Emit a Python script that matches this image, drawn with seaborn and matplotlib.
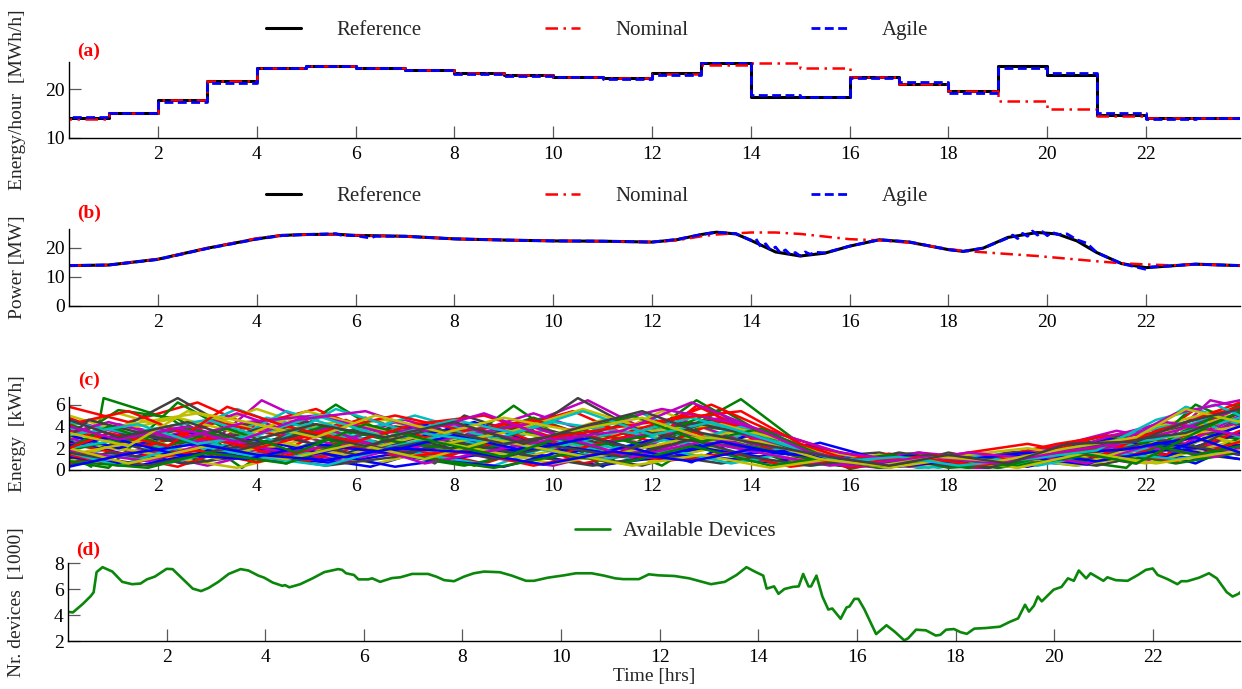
import numpy as np
import pandas as pd
import matplotlib
matplotlib.use("Agg")
import matplotlib.pyplot as plt
import seaborn as sns

# ---------------- data ----------------
# (a) hourly energy [MWh/h], hour h covers [h, h+1)
hours = list(range(24))
energy_reference = [14.1, 15.1, 17.7, 21.6, 24.4, 24.7, 24.4, 24.0, 23.3, 22.9, 22.6, 22.3,
                    23.3, 25.4, 18.4, 18.4, 22.6, 21.0, 19.6, 24.7, 22.9, 14.7, 14.2, 14.2]
energy_nominal = [14.0, 15.1, 17.7, 21.6, 24.4, 24.7, 24.4, 24.0, 23.3, 22.9, 22.6, 22.3,
                  23.2, 25.0, 25.4, 24.3, 22.6, 21.0, 19.6, 17.6, 15.9, 14.6, 14.2, 14.2]
energy_agile = [14.4, 15.1, 17.4, 21.3, 24.4, 24.8, 24.3, 23.9, 23.2, 22.8, 22.6, 22.2,
                22.9, 25.5, 18.9, 18.4, 22.3, 21.4, 19.2, 24.3, 23.4, 15.2, 14.0, 14.1]

# (b) power [MW]
power_t = [0.2, 1.0, 2.0, 3.0, 4.0, 4.5, 5.0, 5.6, 6.0, 7.0, 8.0, 9.0, 10.0, 11.0, 12.0, 12.5,
           13.0, 13.3, 13.7, 14.0, 14.5, 15.0, 15.5, 16.0, 16.6, 17.2, 18.0, 18.3, 18.7, 19.2,
           19.8, 20.2, 20.6, 21.0, 21.5, 22.0, 22.5, 23.0, 23.9]
power_reference = [13.9, 14.1, 16.1, 19.9, 23.1, 24.3, 24.6, 24.7, 24.3, 24.0, 23.1, 22.7, 22.4,
                   22.3, 22.0, 22.8, 24.6, 25.4, 24.8, 22.6, 18.6, 17.2, 18.2, 20.6, 22.8, 22.0,
                   19.4, 18.8, 19.9, 23.6, 25.3, 24.8, 22.4, 18.4, 14.6, 13.2, 13.8, 14.4, 13.9]
power_nominal = [13.9, 14.1, 16.1, 19.9, 23.3, 24.3, 24.6, 24.6, 24.3, 24.0, 23.1, 22.7, 22.4,
                 22.3, 22.0, 22.6, 24.0, 24.6, 25.0, 25.3, 25.3, 24.8, 23.9, 23.0, 22.6, 21.8,
                 19.6, 19.0, 18.5, 17.9, 17.2, 16.6, 16.0, 15.4, 14.7, 14.3, 14.0, 14.3, 13.9]
agile_t = [0.2, 1.0, 2.0, 3.0, 4.0, 4.5, 5.0, 5.6, 5.7, 6.0, 6.3, 6.4, 7.0, 8.0, 9.0, 10.0, 11.0,
           12.0, 12.5, 13.0, 13.3, 13.7, 14.0, 14.1, 14.2, 14.3, 14.4, 14.5, 14.6, 14.7, 14.8,
           14.9, 15.0, 15.1, 15.2, 15.3, 15.5, 16.0, 16.6, 17.2, 18.0, 18.3, 18.7, 19.2, 19.3,
           19.4, 19.5, 19.6, 19.7, 19.8, 19.9, 20.0, 20.1, 20.2, 20.4, 20.6, 20.8, 21.0, 21.5,
           21.9, 22.0, 22.1, 22.5, 23.0, 23.9]
power_agile = [13.9, 14.1, 16.0, 19.8, 23.0, 24.2, 24.6, 24.9, 24.4, 24.2, 23.4, 24.0, 24.0, 23.1,
               22.7, 22.4, 22.3, 22.0, 22.9, 24.6, 25.4, 24.9, 22.6, 23.2, 20.4, 21.4, 19.2, 20.3,
               18.2, 19.3, 17.6, 18.4, 17.2, 18.6, 17.8, 18.5, 18.3, 20.6, 22.8, 22.1, 19.4, 18.8,
               19.9, 23.4, 24.4, 23.2, 25.0, 24.0, 25.8, 24.4, 25.6, 24.2, 25.4, 24.6, 24.8, 22.8,
               21.6, 18.4, 14.6, 13.0, 12.6, 13.4, 13.8, 14.4, 13.9]

# (c) device energy trajectories [kWh]: waypoint times and energies, one list per device
dev_colors = {"b": "#0000ff", "g": "#008000", "r": "#ff0000", "c": "#00bfbf",
              "m": "#bf00bf", "y": "#bfbf00", "k": "#404040"}
dev_times = {
 "b1": [0.2,1.4,2.8,4.0,5.6,7.2,8.6,10.2,11.6,13.2,14.6,15.8,17.0,18.4,19.6,21.0,22.4,23.9],
 "b2": [0.2,1.0,2.5,3.8,5.0,6.3,8.0,9.5,11.0,12.4,13.6,15.3,16.4,17.6,19.0,20.2,21.8,23.0,23.9],
 "b3": [0.2,1.8,3.3,4.8,6.4,7.4,8.8,10.0,11.4,12.8,14.0,15.0,16.2,17.4,18.8,20.4,21.6,23.0,23.9],
 "b4": [0.2,0.8,2.2,3.6,5.2,6.8,8.2,9.8,11.2,12.6,14.4,15.6,16.8,18.2,19.4,20.6,22.2,23.9],
 "b5": [0.2,1.2,2.6,4.2,5.6,7.0,8.4,9.6,11.0,12.2,13.6,14.8,16.0,17.2,18.6,19.8,21.2,22.8,23.9],
 "b6": [0.2,1.6,3.0,4.4,5.8,7.4,9.0,10.4,11.8,13.0,14.2,15.4,16.6,18.0,19.2,20.8,22.0,23.4,23.9],
 "b7": [0.2,1.0,2.4,3.8,5.2,6.6,8.0,9.4,10.8,12.2,13.4,14.6,15.8,17.0,18.4,19.6,21.0,22.6,23.9],
 "b8": [0.2,1.4,2.8,4.0,5.4,6.8,8.4,9.8,11.2,12.8,14.0,15.2,16.4,17.8,19.0,20.2,21.6,23.0,23.9],
 "g1": [0.2,0.65,0.9,2.3,3.7,5.6,7.6,9.2,11.0,12.9,14.6,15.6,16.6,17.4,18.2,19.0,20.2,21.0,22.4,23.9],
 "g2": [0.2,1.2,2.4,3.4,4.6,6.0,7.4,8.4,9.8,11.2,12.4,13.8,15.0,16.0,17.0,18.4,19.6,21.2,22.4,23.9],
 "g3": [0.2,1.0,2.4,4.0,5.2,6.8,8.2,9.6,11.0,12.2,13.2,14.6,15.8,17.2,18.6,20.0,21.6,23.0,23.9],
 "g4": [0.2,1.6,3.0,4.4,5.6,7.0,8.6,10.0,11.6,13.0,14.0,15.2,16.6,17.8,19.0,20.4,22.0,23.2,23.9],
 "g5": [0.2,1.4,2.8,4.0,5.4,6.8,8.2,9.6,11.0,12.4,13.6,14.8,16.0,17.2,18.4,19.8,21.0,22.6,23.9],
 "g6": [0.2,1.2,2.6,4.0,5.4,6.8,8.2,9.4,10.8,12.2,13.4,14.6,15.6,16.8,18.0,19.4,20.6,21.8,22.6,23.9],
 "g7": [0.2,1.8,3.0,4.6,5.8,7.2,8.8,10.2,11.4,12.8,14.4,15.6,16.6,17.8,19.0,20.6,21.6,23.0,23.9],
 "g8": [0.2,1.0,2.2,3.4,4.8,6.2,7.6,9.0,10.4,11.6,13.0,14.2,15.4,16.6,17.8,19.2,20.4,21.8,23.0,23.9],
 "r1": [0.2,1.4,2.8,4.2,5.4,6.6,8.0,9.4,10.8,12.0,12.9,14.2,15.6,16.8,18.2,19.4,20.6,22.0,23.0,23.9],
 "r2": [0.2,1.2,2.6,3.8,5.2,6.4,7.6,9.0,10.4,11.6,13.0,14.4,15.4,16.6,17.8,19.2,20.6,21.8,23.2,23.9],
 "r3": [0.2,1.6,3.0,4.4,5.8,7.2,8.6,10.0,11.2,12.6,13.6,14.8,16.0,17.4,18.6,20.0,21.4,22.8,23.9],
 "r4": [0.2,1.0,2.4,3.6,5.0,6.4,7.8,9.2,10.6,12.0,13.4,14.6,15.6,16.8,18.0,19.4,20.8,22.4,23.9],
 "r5": [0.2,1.8,3.2,4.8,6.2,7.4,8.8,10.2,11.6,12.8,14.0,15.2,16.4,17.6,18.8,20.2,21.6,23.0,23.9],
 "r6": [0.2,1.2,2.8,4.0,5.6,7.0,8.2,9.6,11.0,12.4,13.6,14.8,16.2,17.2,18.6,19.8,21.2,22.6,23.9],
 "r7": [0.2,1.4,2.6,4.0,5.4,6.8,8.2,9.6,11.0,12.2,13.2,14.4,15.6,17.0,18.4,19.6,21.0,22.2,23.9],
 "r8": [0.2,1.0,2.2,3.4,4.6,6.0,7.2,8.6,10.0,11.4,12.6,13.8,15.0,16.2,17.4,18.6,20.0,21.2,22.6,23.9],
 "c1": [0.2,1.6,3.0,3.6,4.8,6.2,7.6,9.0,10.4,11.8,13.0,14.2,15.4,16.6,18.0,19.2,20.4,21.8,22.8,23.9],
 "c2": [0.2,1.2,2.4,3.8,5.0,6.6,8.0,9.4,10.6,12.0,13.4,14.8,16.0,17.4,18.6,20.0,21.4,22.6,23.9],
 "c3": [0.2,1.4,2.8,4.2,5.8,7.2,8.4,9.8,11.2,12.6,13.8,15.0,16.2,17.6,19.0,20.4,21.8,23.2,23.9],
 "c4": [0.2,1.0,2.2,3.4,4.6,6.0,7.4,8.8,10.2,11.6,12.8,14.0,15.2,16.4,17.8,19.0,20.6,22.0,23.6,23.9],
 "c5": [0.2,1.8,3.2,4.6,6.0,7.2,8.6,10.0,11.4,12.6,13.8,15.0,16.4,17.6,19.0,20.4,21.6,23.0,23.9],
 "c6": [0.2,1.2,2.6,4.0,5.4,6.8,8.2,9.6,11.0,12.4,13.6,14.8,16.0,17.2,18.4,19.8,21.2,22.6,23.9],
 "c7": [0.2,1.4,3.0,4.4,5.6,7.0,8.6,10.0,11.6,12.8,14.2,15.6,16.8,18.2,19.4,20.8,22.2,23.9],
 "c8": [0.2,1.6,2.8,4.0,5.2,6.6,8.0,9.2,10.6,12.0,13.2,14.6,15.8,17.0,18.2,19.6,21.0,22.2,23.4,23.9],
 "m1": [0.2,1.4,2.8,4.1,5.6,7.0,8.4,9.8,10.7,12.0,13.4,14.8,15.8,17.0,18.2,19.6,21.0,22.4,23.3,23.9],
 "m2": [0.2,1.0,2.6,3.6,5.0,6.2,7.6,9.0,10.4,11.8,12.6,14.0,15.2,16.6,17.8,19.2,20.6,22.0,23.9],
 "m3": [0.2,1.6,3.0,4.4,5.8,7.2,8.6,10.0,11.4,12.8,14.2,15.4,16.6,17.8,19.2,20.4,21.8,23.2,23.9],
 "m4": [0.2,1.2,2.8,4.2,5.4,6.8,8.2,9.6,10.8,12.2,13.6,15.0,16.2,17.4,18.8,20.2,21.4,22.8,23.9],
 "m5": [0.2,1.4,2.6,4.0,5.4,6.8,8.0,9.4,10.8,12.2,13.6,14.8,16.0,17.2,18.6,20.0,21.2,22.6,23.9],
 "m6": [0.2,1.8,3.2,4.6,6.0,7.4,8.8,10.2,11.6,13.0,14.4,15.6,16.8,18.0,19.4,20.8,22.0,23.4,23.9],
 "m7": [0.2,1.0,2.4,3.8,5.2,6.6,8.0,9.4,10.8,12.2,13.6,14.8,15.8,17.2,18.4,19.8,21.2,22.4,23.9],
 "m8": [0.2,1.2,2.4,3.6,4.8,6.2,7.4,8.6,10.0,11.4,12.8,14.0,15.2,16.4,17.6,19.0,20.2,21.4,22.6,23.9],
 "y1": [0.2,1.2,2.6,4.0,5.2,6.6,8.0,9.4,10.8,12.2,13.4,14.8,16.0,17.2,18.4,19.6,21.0,22.4,23.4,23.9],
 "y2": [0.2,1.6,3.0,4.2,5.6,7.0,8.4,9.8,11.2,12.6,14.0,15.2,16.4,17.6,18.8,20.2,21.6,23.0,23.9],
 "y3": [0.2,1.0,2.2,3.6,5.0,6.4,7.8,9.2,10.6,12.0,13.2,14.4,15.6,16.8,18.0,19.4,20.6,22.0,23.9],
 "y4": [0.2,1.4,2.8,4.2,5.6,7.0,8.4,9.8,11.0,12.4,13.8,15.0,16.2,17.6,18.8,20.0,21.4,22.8,23.9],
 "y5": [0.2,1.8,3.2,4.4,5.8,7.2,8.6,10.0,11.4,12.8,14.2,15.4,16.6,17.8,19.2,20.6,22.0,23.4,23.9],
 "y6": [0.2,1.2,2.4,3.8,5.0,6.4,7.8,9.2,10.6,12.0,13.4,14.6,15.8,17.0,18.4,19.6,21.0,22.4,23.9],
 "y7": [0.2,1.4,3.0,4.6,6.0,7.4,8.8,10.2,11.6,13.0,14.4,15.6,16.8,18.0,19.4,20.8,22.2,23.9],
 "y8": [0.2,1.4,2.6,3.8,5.2,6.4,7.8,9.0,10.4,11.8,13.0,14.2,15.4,16.6,17.8,19.0,20.4,21.8,22.8,23.9],
 "k1": [0.2,1.4,2.4,3.8,5.0,6.4,7.8,8.2,9.4,10.5,11.8,13.2,14.4,15.4,16.6,17.8,19.2,20.6,21.8,23.0,23.9],
 "k2": [0.2,1.2,2.2,3.6,5.0,6.2,7.6,9.0,10.4,11.8,13.0,14.2,15.6,16.8,18.0,19.4,20.8,22.0,23.9],
 "k3": [0.2,1.6,3.0,4.2,5.6,6.8,8.2,9.6,11.0,12.4,13.6,15.0,16.2,17.4,18.6,20.0,21.4,22.8,23.9],
 "k4": [0.2,1.0,2.6,4.0,5.4,6.8,8.0,9.4,10.8,12.2,13.4,14.6,15.8,17.0,18.2,19.6,21.0,22.4,23.9],
 "k5": [0.2,1.4,2.8,4.2,5.6,7.0,8.6,10.0,11.4,12.6,14.0,15.2,16.4,17.6,18.8,20.2,21.6,23.0,23.9],
 "k6": [0.2,1.8,3.2,4.6,6.0,7.4,8.8,10.0,11.4,12.8,14.0,15.2,16.6,18.0,19.4,20.8,22.2,23.9],
 "k7": [0.2,0.6,2.0,3.6,5.0,6.2,7.6,9.0,10.4,11.6,13.0,14.2,15.4,16.6,17.6,18.8,20.0,21.4,22.8,23.9],
 "k8": [0.2,1.2,2.6,3.8,5.2,6.6,8.0,9.4,10.6,11.8,13.0,14.4,15.6,16.8,18.0,19.2,20.4,21.8,22.8,23.9],
}
dev_energy = {
 "b1": [1.6,1.2,1.9,1.4,0.6,1.8,2.2,0.9,1.5,2.4,1.8,1.0,0.6,0.9,0.3,1.6,2.4,1.4],
 "b2": [0.9,2.2,0.6,2.4,1.2,0.3,2.6,1.3,0.4,1.8,2.8,2.2,0.9,0.4,1.1,0.6,1.9,1.0,2.0],
 "b3": [2.6,1.0,2.1,0.9,3.2,4.2,2.0,1.2,2.8,0.7,3.4,2.0,0.9,0.5,0.2,1.9,2.4,0.6,2.5],
 "b4": [0.5,1.4,0.8,2.1,1.7,0.3,1.2,2.3,0.6,1.4,0.7,1.6,0.9,0.3,1.0,2.2,1.0,3.4],
 "b5": [3.2,2.0,3.4,2.6,1.3,2.7,4.4,2.6,1.6,3.0,1.4,1.8,0.6,1.3,0.4,1.3,2.9,1.8,1.0],
 "b6": [1.2,0.4,1.7,0.8,2.1,1.0,0.3,2.0,1.1,2.0,1.2,2.5,1.0,0.7,1.4,0.5,2.6,1.8,2.3],
 "b7": [2.2,3.0,1.4,1.0,2.4,1.6,3.2,1.8,3.0,1.3,2.6,1.5,1.2,0.3,1.0,1.6,0.8,2.0,4.0],
 "b8": [0.3,1.5,2.4,1.4,0.9,2.0,1.6,0.5,1.7,0.8,1.9,1.3,0.5,1.2,0.6,1.5,1.9,3.0,1.6],
 "g1": [1.4,0.3,6.6,4.6,0.2,6.0,0.6,5.9,0.3,6.4,2.0,0.5,1.1,0.2,0.8,0.2,1.3,2.6,4.0,2.8],
 "g2": [2.6,5.5,4.7,2.0,0.6,3.6,1.8,0.4,2.6,1.4,3.0,6.5,2.4,0.1,1.0,0.2,1.3,3.2,1.0,4.8],
 "g3": [0.8,0.2,6.2,2.2,4.2,1.4,2.8,4.8,2.6,0.4,3.2,1.0,0.4,1.5,0.3,1.2,0.2,6.0,4.2],
 "g4": [3.6,2.4,0.8,2.6,1.2,3.4,2.0,3.2,1.0,4.0,3.4,1.2,0.3,1.1,0.4,2.0,2.8,1.2,3.0],
 "g5": [1.8,3.0,1.6,1.0,2.8,1.4,0.4,1.8,3.2,1.6,2.6,1.4,0.4,1.2,0.2,0.8,2.0,0.6,1.6],
 "g6": [4.2,2.6,3.8,2.4,4.0,2.6,1.8,3.6,2.2,3.4,5.6,2.4,0.6,1.4,0.2,0.6,2.2,1.0,3.2,6.0],
 "g7": [0.8,0.2,1.6,0.6,2.6,1.2,0.2,1.4,0.6,2.2,0.4,1.2,0.2,1.0,0.2,1.2,2.8,1.4,2.2],
 "g8": [2.0,4.0,2.2,3.8,1.6,4.2,2.6,1.2,3.4,5.0,2.6,3.8,1.4,0.4,1.2,0.4,1.8,0.6,3.4,5.4],
 "r1": [5.8,4.4,6.2,3.4,5.2,3.0,4.4,2.0,4.2,2.6,5.9,3.0,0.6,1.4,0.4,1.6,0.6,2.4,5.6,4.0],
 "r2": [4.8,3.0,1.6,4.0,5.6,3.2,1.0,3.6,5.4,3.0,5.8,2.2,1.4,0.4,1.2,0.3,2.2,1.2,4.2,6.0],
 "r3": [2.4,1.2,3.0,1.4,4.6,2.0,0.6,2.6,1.4,3.8,2.4,1.6,0.2,0.9,0.2,1.8,0.8,3.2,1.6],
 "r4": [0.6,1.6,0.3,2.2,0.8,2.6,1.2,3.0,0.6,1.8,4.6,1.2,0.6,1.5,0.5,1.0,2.6,1.4,5.4],
 "r5": [3.6,2.2,4.4,2.8,4.8,3.0,4.0,1.6,3.2,5.2,3.6,2.0,0.4,1.4,1.0,2.4,3.4,2.0,3.6],
 "r6": [1.4,0.4,1.8,0.7,2.4,1.2,1.8,0.4,1.6,0.9,1.6,0.3,1.1,0.3,1.4,0.6,1.8,0.8,2.6],
 "r7": [4.2,5.4,3.2,2.0,3.6,5.0,3.6,4.6,2.8,4.4,6.0,3.6,1.8,0.6,1.6,2.4,1.2,3.6,5.8],
 "r8": [2.0,3.4,2.2,5.8,4.0,2.6,4.2,5.0,3.0,4.0,4.8,5.4,2.4,0.6,1.2,0.4,1.4,2.2,4.0,6.2],
 "c1": [2.8,1.6,4.4,5.6,3.6,2.0,3.8,1.6,3.0,5.2,2.6,3.4,1.6,0.6,1.4,0.6,1.8,2.8,5.8,4.4],
 "c2": [1.0,2.2,3.2,1.6,4.2,2.4,1.0,2.8,1.4,4.0,2.0,0.4,1.2,0.2,1.0,2.0,1.0,3.8,5.6],
 "c3": [3.8,2.6,1.6,4.8,3.0,4.2,2.4,3.6,2.0,3.0,1.4,2.2,0.8,1.4,0.5,1.4,2.4,1.4,2.8],
 "c4": [0.4,1.4,0.6,2.0,1.0,3.0,1.4,0.4,2.6,1.0,2.2,1.0,0.4,1.0,0.2,1.2,0.4,2.0,4.6,4.2],
 "c5": [2.0,3.2,2.0,5.4,3.4,5.0,3.2,2.0,3.6,2.4,4.0,1.4,0.6,0.2,1.4,0.8,3.2,4.6,3.0],
 "c6": [1.6,0.4,2.4,1.2,0.4,2.2,3.6,2.0,1.0,1.8,0.6,1.6,1.0,0.4,1.4,0.4,1.6,1.0,1.8],
 "c7": [4.4,3.4,4.6,2.6,5.6,3.6,2.6,4.4,3.4,4.8,3.0,1.2,0.6,1.2,0.6,2.2,2.8,4.8],
 "c8": [3.2,4.2,2.4,3.2,5.0,3.0,4.6,3.4,5.4,3.2,4.4,2.4,0.8,1.2,0.4,1.0,1.8,4.6,6.0,5.0],
 "m1": [1.2,2.6,1.4,6.4,3.2,4.6,2.8,4.8,6.4,3.4,4.8,2.6,1.4,0.6,1.2,0.4,1.8,2.6,6.4,5.8],
 "m2": [3.0,1.8,3.6,5.2,3.0,1.6,3.4,2.0,3.6,1.4,4.6,2.4,1.4,1.0,0.4,1.2,2.6,1.6,4.4],
 "m3": [0.6,1.8,0.4,2.0,0.8,2.4,1.2,0.4,2.0,1.0,2.0,0.8,0.2,1.2,0.4,1.6,0.6,2.4,1.4],
 "m4": [2.2,4.2,2.6,3.8,2.0,4.4,3.2,5.2,3.4,2.0,3.6,1.6,0.8,1.6,1.0,2.2,3.6,2.4,5.0],
 "m5": [4.6,3.2,4.0,2.2,3.8,1.6,3.0,4.2,2.2,3.6,2.6,1.0,0.4,1.0,0.2,1.0,2.0,3.6,5.6],
 "m6": [1.8,0.8,2.8,1.6,2.6,0.6,1.8,3.0,1.2,2.6,1.4,0.4,1.2,0.4,1.6,0.6,2.2,1.2,2.0],
 "m7": [3.4,4.4,2.8,4.4,5.0,3.4,4.2,2.6,4.0,5.6,4.4,3.0,1.6,0.8,1.6,1.0,3.0,4.4,3.2],
 "m8": [4.0,2.8,3.8,2.6,4.6,5.4,3.6,5.2,2.8,3.6,6.2,4.0,1.6,0.6,1.2,0.6,1.6,2.4,5.2,6.4],
 "y1": [4.0,5.2,3.4,5.6,3.8,4.6,2.8,4.4,2.4,5.4,3.2,1.8,0.6,1.4,0.4,1.6,2.4,4.2,5.4,4.6],
 "y2": [2.6,1.6,3.2,2.0,3.4,1.8,3.8,2.2,3.2,1.4,2.8,1.6,0.8,0.3,1.0,2.2,1.2,3.4,2.2],
 "y3": [0.8,2.2,1.2,0.2,1.8,0.6,2.0,1.0,2.4,0.8,2.0,0.6,1.2,0.4,1.4,0.2,1.6,0.6,2.8],
 "y4": [3.0,4.2,5.2,3.4,4.4,2.6,4.2,3.0,4.6,2.6,3.6,2.0,1.2,0.4,1.4,0.8,2.6,3.8,5.2],
 "y5": [1.4,2.8,1.0,2.6,1.4,3.0,1.8,0.6,1.6,3.0,1.6,0.6,1.4,0.6,1.2,0.4,1.4,3.0,2.4],
 "y6": [5.0,3.6,4.8,3.2,5.4,3.8,2.4,3.6,5.6,3.6,4.2,2.8,1.2,0.4,1.4,2.0,1.0,3.0,4.0],
 "y7": [2.0,0.6,2.2,1.0,2.4,1.0,2.8,1.6,0.4,1.4,0.2,1.0,0.2,1.0,0.2,1.6,0.6,1.8],
 "y8": [3.4,2.2,5.4,4.4,3.0,5.0,3.4,4.8,3.6,4.8,3.0,2.6,1.0,0.4,1.2,0.8,2.0,3.0,5.6,4.4],
 "k1": [2.8,4.2,6.6,3.0,4.4,2.2,3.6,5.0,3.2,6.6,3.4,4.6,2.4,1.2,1.6,0.4,1.6,2.0,3.6,1.8,3.4],
 "k2": [1.0,2.6,1.2,2.4,1.0,2.6,1.2,2.8,1.4,0.4,2.0,3.4,0.8,0.2,1.6,0.4,1.6,1.0,2.6],
 "k3": [3.6,2.2,3.4,4.6,2.6,4.0,3.0,4.0,2.4,4.4,4.0,1.8,0.8,1.6,0.6,1.0,2.2,4.0,3.0],
 "k4": [0.4,1.6,0.6,1.4,0.4,1.2,2.6,1.4,0.4,1.4,0.6,1.6,0.4,1.6,0.8,1.2,0.4,1.8,1.0],
 "k5": [2.2,3.4,2.2,4.0,2.8,1.6,3.2,2.2,4.2,2.8,2.0,1.2,0.4,1.0,0.2,1.6,3.0,2.0,4.2],
 "k6": [1.6,0.4,1.8,3.0,1.4,2.6,1.0,2.2,1.2,2.8,1.2,0.4,1.2,0.4,1.6,1.0,2.8,1.4],
 "k7": [3.0,4.6,3.0,1.8,3.4,2.2,3.8,2.4,3.4,2.0,4.2,3.0,1.0,0.4,1.4,0.2,1.4,2.6,3.4,5.2],
 "k8": [4.6,3.0,4.4,2.6,4.2,3.0,4.4,2.4,4.0,5.4,3.4,2.2,1.2,0.4,1.4,0.6,2.4,2.6,4.4,5.6],
}

# (d) available devices [1000]
avail_t = [0.0,0.1,0.3,0.46,0.52,0.58,0.7,0.9,1.1,1.3,
           1.47,1.6,1.76,2.0,2.12,2.32,2.53,2.7,2.85,3.05,
           3.26,3.5,3.66,3.86,3.98,4.15,4.35,4.4,4.49,4.71,
           4.96,5.2,5.48,5.56,5.64,5.8,5.89,6.09,6.17,6.33,
           6.57,6.74,6.98,7.3,7.47,7.63,7.83,8.03,8.23,8.44,
           8.76,9.0,9.29,9.45,9.73,10.06,10.3,10.62,10.87,11.1,
           11.26,11.58,11.78,11.98,12.3,12.6,13.04,13.32,13.56,13.76,
           13.93,14.1,14.17,14.32,14.41,14.53,14.7,14.82,14.91,15.02,
           15.07,15.18,15.3,15.42,15.5,15.67,15.79,15.85,15.95,16.03,
           16.15,16.39,16.6,16.76,16.96,17.04,17.2,17.4,17.6,17.69,
           17.81,17.97,18.1,18.23,18.38,18.62,18.9,19.1,19.27,19.41,
           19.49,19.59,19.67,19.75,19.87,19.99,20.15,20.28,20.4,20.5,
           20.65,20.74,21.0,21.08,21.25,21.49,21.7,21.86,22.0,22.1,
           22.3,22.5,22.58,22.7,22.94,23.14,23.3,23.5,23.62,23.74,
           23.88]
avail_n = [4.24,4.2,4.85,5.45,5.75,7.3,7.68,7.34,6.55,6.37,
           6.42,6.74,6.95,7.55,7.53,6.8,6.03,5.84,6.08,6.55,
           7.16,7.53,7.42,7.03,6.87,6.5,6.24,6.3,6.13,6.37,
           6.82,7.3,7.53,7.47,7.21,7.08,6.74,6.74,6.82,6.55,
           6.84,6.9,7.16,7.16,6.95,6.68,6.6,6.95,7.21,7.34,
           7.29,7.03,6.63,6.63,6.87,7.05,7.21,7.21,7.03,6.82,
           6.76,6.76,7.13,7.05,7.0,6.82,6.37,6.55,7.08,7.68,
           7.34,7.03,6.03,6.2,5.63,6.0,6.16,6.2,7.16,6.2,
           6.2,7.03,5.42,4.42,4.5,3.71,4.58,4.66,5.24,5.24,
           4.45,2.53,3.21,2.74,2.05,2.21,2.87,2.82,2.42,2.47,
           2.87,2.92,2.68,2.55,2.95,3.0,3.1,3.47,3.74,4.79,
           4.26,4.71,5.42,5.05,5.5,5.95,6.16,6.82,6.63,7.42,
           6.82,7.21,6.63,6.9,6.68,6.63,7.08,7.47,7.58,7.08,
           6.76,6.37,6.6,6.6,6.87,7.21,6.82,5.76,5.42,5.63,
           6.1]

x_ticks = [2, 4, 6, 8, 10, 12, 14, 16, 18, 20, 22]

# ---------------- style ----------------
sns.set_style("ticks")
plt.rcParams["font.family"] = ["Liberation Serif", "DejaVu Serif"]
plt.rcParams.update({
    "font.size": 14,
    "xtick.direction": "in", "ytick.direction": "in",
    "xtick.major.size": 8.5, "ytick.major.size": 8.5,
    "xtick.major.width": 0.9, "ytick.major.width": 0.9,
    "xtick.color": "0.35", "ytick.color": "0.35",
    "xtick.labelcolor": "black", "ytick.labelcolor": "black",
    "xtick.labelsize": 14, "ytick.labelsize": 14,
    "xtick.major.pad": 6, "ytick.major.pad": 3,
    "axes.linewidth": 1.0, "axes.edgecolor": "black",
})

W, H = 1242, 689
fig = plt.figure(figsize=(W / 100, H / 100), dpi=100)

def px_axes(left, top, right, bottom):
    return fig.add_axes([left / W, 1 - bottom / H, (right - left) / W, (bottom - top) / H])

axA = px_axes(69, 62, 1240, 138)
axB = px_axes(69, 229, 1240, 306)
axC = px_axes(69, 397, 1240, 470)
axD = px_axes(68, 563, 1240, 641)

DASH_RED = (0, (5, 2.2, 1, 2.2))
DASH_BLUE = (0, (3.2, 1.6))

# (a) step chart
step_x = hours + [24]
for vals, color, ls, lw, lab in [(energy_reference, "black", "-", 2.2, "Reference"),
                                 (energy_nominal, "red", DASH_RED, 1.8, "Nominal"),
                                 (energy_agile, "blue", DASH_BLUE, 2.0, "Agile")]:
    sns.lineplot(x=step_x, y=vals + [vals[-1]], ax=axA, color=color, linestyle=ls,
                 linewidth=lw, drawstyle="steps-post", label=lab, estimator=None)

# (b) power
sns.lineplot(x=power_t, y=power_reference, ax=axB, color="black", linewidth=2.2,
             label="Reference", estimator=None)
sns.lineplot(x=power_t, y=power_nominal, ax=axB, color="red", linestyle=DASH_RED,
             linewidth=1.8, label="Nominal", estimator=None)
sns.lineplot(x=agile_t, y=power_agile, ax=axB, color="blue", linestyle=DASH_BLUE,
             linewidth=2.0, label="Agile", estimator=None)

# (c) device trajectories, interleaved by colour
order = []
for i in range(1, 9):
    for c in ["b", "g", "r", "c", "m", "y", "k"]:
        order.append(f"{c}{i}")
rows = []
for dev in order:
    for t, e in zip(dev_times[dev], dev_energy[dev]):
        rows.append((dev, t, e))
dev_df = pd.DataFrame(rows, columns=["device", "t", "e"])
palette = {d: dev_colors[d[0]] for d in order}
sns.lineplot(data=dev_df, x="t", y="e", hue="device", hue_order=order, palette=palette,
             ax=axC, linewidth=1.8, estimator=None, sort=False, legend=False)

# (d) available devices
sns.lineplot(x=avail_t, y=avail_n, ax=axD, color="#0a870a", linewidth=1.9,
             label="Available Devices", estimator=None)

# ---------------- axes cosmetics ----------------
cfg = [
    (axA, (0.2, 23.9), (10, 25.6), [10, 20], "Energy/hour  [MWh/h]", "(a)", 11),
    (axB, (0.2, 23.9), (0, 26.5), [0, 10, 20], "Power [MW]", "(b)", 16),
    (axC, (0.2, 23.9), (0, 6.7), [0, 2, 4, 6], "Energy  [kWh]", "(c)", 17),
    (axD, (0.0, 23.77), (2, 8), [2, 4, 6, 8], "Nr. devices  [1000]", "(d)", 13),
]
for ax, xl, yl, yt, ylab, tag, off in cfg:
    ax.set_xlim(*xl)
    ax.set_ylim(*yl)
    ax.set_xticks(x_ticks)
    ax.set_yticks(yt)
    ax.set_xlabel("")
    ax.set_ylabel(ylab, fontsize=14)
    ax.yaxis.set_label_coords(-0.037, 0.5)
    sns.despine(ax=ax)
    ax.set_facecolor("none")
    ax.annotate(tag, xy=(0.017, 1.0), xycoords="axes fraction", xytext=(0, off * 0.72),
                textcoords="offset points", ha="center", va="center", color="red",
                fontweight="bold", fontsize=14)

axD.set_xlabel("Time [hrs]", fontsize=14, labelpad=1)

for ax, xa in [(axA, 0.451), (axB, 0.451)]:
    h, l = ax.get_legend_handles_labels()
    ax.legend(h, l, loc="center", bbox_to_anchor=(xa, 1.42), ncol=3, frameon=False,
              fontsize=15, handlelength=1.7, handletextpad=1.7, columnspacing=5.9)
h, l = axD.get_legend_handles_labels()
axD.legend(h, l, loc="center", bbox_to_anchor=(0.518, 1.41), ncol=1, frameon=False,
           fontsize=15, handlelength=1.7, handletextpad=0.6)

fig.savefig("out.png", dpi=100)
